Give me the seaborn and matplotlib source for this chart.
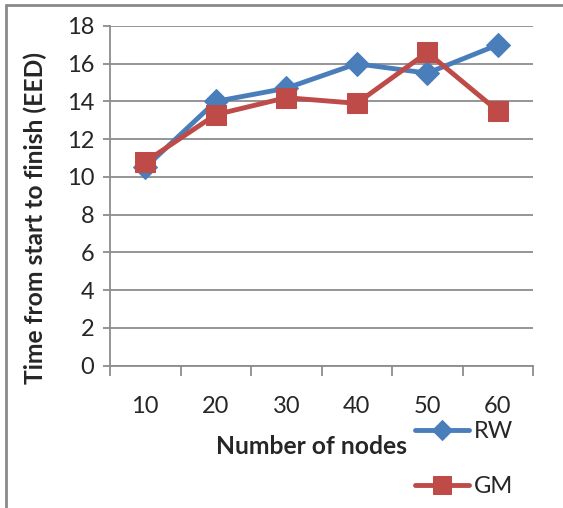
import matplotlib
matplotlib.use("Agg")
import matplotlib.pyplot as plt
from matplotlib.lines import Line2D
import seaborn as sns
import pandas as pd
import numpy as np

categories = ["10", "20", "30", "40", "50", "60"]
rw_values = [10.5, 14.0, 14.7, 16.0, 15.5, 17.0]
gm_values = [10.8, 13.3, 14.2, 13.9, 16.6, 13.5]
y_ticks = [0, 2, 4, 6, 8, 10, 12, 14, 16, 18]
x_label = "Number of nodes"
y_label = "Time from start to finish (EED)"

sns.set_style("white")
plt.rcParams['font.family'] = ['Lato', 'DejaVu Sans']

W, H = 563, 508
fig = plt.figure(figsize=(W / 100, H / 100), dpi=100)
ax = fig.add_axes([110 / W, 1 - 365.5 / H, 423 / W, (365.5 - 26) / H])

pos = np.arange(len(categories))
df_rw = pd.DataFrame({"pos": pos, "value": rw_values})
df_gm = pd.DataFrame({"pos": pos, "value": gm_values})

blue = "#4A7EBB"
red = "#BE4B48"
grid_c = "#8C8C8C"

sns.lineplot(data=df_rw, x="pos", y="value", ax=ax, color=blue, lw=3.5,
             marker="D", markersize=12.5, markeredgecolor=blue, label="RW", zorder=3)
sns.lineplot(data=df_gm, x="pos", y="value", ax=ax, color=red, lw=3.5,
             marker="s", markersize=14.5, markeredgecolor=red, label="GM", zorder=4)

ax.set_xlim(-0.5, len(categories) - 0.5)
ax.set_ylim(0, 18)
ax.set_yticks(y_ticks)
ax.set_yticklabels([str(t) for t in y_ticks])
ax.set_xticks(pos)
ax.set_xticklabels(categories)
ax.set_xticks(np.arange(-0.5, len(categories)), minor=True)

ax.grid(axis="y", color=grid_c, lw=1.3)
ax.set_axisbelow(True)
for s in ["top", "right"]:
    ax.spines[s].set_visible(False)
for s in ["left", "bottom"]:
    ax.spines[s].set_color(grid_c)
    ax.spines[s].set_linewidth(1.3)

ax.tick_params(axis="y", which="major", direction="out", length=5, width=1.3,
               color=grid_c, pad=6.5, labelsize=17, left=True)
ax.tick_params(axis="x", which="major", length=0, pad=22, labelsize=17, bottom=True)
ax.tick_params(axis="x", which="minor", direction="out", length=7.2, width=1.3,
               color=grid_c, bottom=True)

ax.set_xlabel(x_label, fontsize=17.7, fontweight="bold")
ax.set_ylabel(y_label, fontsize=17.7, fontweight="bold")
ax.xaxis.label.set_va("center")
ax.yaxis.label.set_va("center")
ax.xaxis.set_label_coords((311 - 110) / 423, (365.5 - 446) / 339.5)
ax.yaxis.set_label_coords((35 - 110) / 423, (365.5 - 218) / 339.5)

handles, labels = ax.get_legend_handles_labels()
ax.legend(handles, labels, loc="upper left",
          bbox_to_anchor=(415 / W, 1 - 421 / H), bbox_transform=fig.transFigure,
          frameon=False, fontsize=17, handlelength=2.3, handletextpad=0.2,
          borderpad=0, borderaxespad=0, labelspacing=1.45, numpoints=1,
          markerscale=0.85)

fig.add_artist(Line2D([6 / W, 6 / W], [0, 1 - 5 / H], transform=fig.transFigure,
                      color="#8A8A8A", lw=2))
fig.add_artist(Line2D([6 / W, 1], [1 - 5 / H, 1 - 5 / H], transform=fig.transFigure,
                      color="#8A8A8A", lw=2))

fig.savefig("out.png", dpi=100)
